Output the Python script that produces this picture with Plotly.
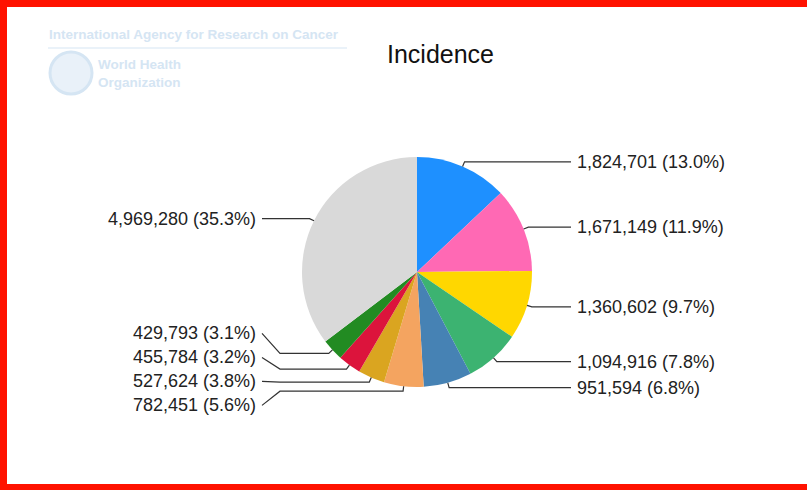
import math
import plotly.graph_objects as go

# ---- data ----
values = [1824701, 1671149, 1360602, 1094916, 951594, 782451, 527624, 455784, 429793, 4969280]
colors = ["#1E90FF", "#FF69B4", "#FFD700", "#3CB371", "#4682B4",
          "#F4A460", "#DAA520", "#DC143C", "#228B22", "#D9D9D9"]
title_text = "Incidence"

W, H = 807, 490
CX, CY, R = 417, 272, 115          # pie centre / radius in px
LABEL_GAP = 24
RIGHT_TEXT_X, RIGHT_LINE_END, RIGHT_KNEE = 575, 571, 555
LEFT_TEXT_X, LEFT_LINE_END, LEFT_KNEE = 258, 262, 280
LABEL_FONT = dict(family="Liberation Sans, Arial", size=18, color="#222222")


def px(x):
    return x / W


def py(y):
    return 1 - y / H


total = sum(values)
fig = go.Figure()
fig.add_trace(go.Pie(
    values=values,
    marker=dict(colors=colors, line=dict(width=0)),
    sort=False, direction="clockwise", rotation=0,
    textinfo="none", hoverinfo="value+percent", showlegend=False,
    domain=dict(x=[px(CX - R), px(CX + R)], y=[py(CY + R), py(CY - R)]),
))

# slice geometry
items = []
cum = 0
for v in values:
    mid = (cum + v / 2) / total * 2 * math.pi
    cum += v
    p = (CX + R * math.sin(mid), CY - R * math.cos(mid))
    q = (CX + (R + 5) * math.sin(mid), CY - (R + 5) * math.cos(mid))
    side = "right" if math.sin(mid) >= 0 else "left"
    items.append(dict(v=v, p=p, q=q, side=side, ly=q[1]))


def spread(group, bias=0.5):
    group.sort(key=lambda d: d["q"][1])
    for _ in range(300):
        moved = False
        for a, b in zip(group, group[1:]):
            d = b["ly"] - a["ly"]
            if d < LABEL_GAP - 0.01:
                s = LABEL_GAP - d
                a["ly"] -= s * (1 - bias)
                b["ly"] += s * bias
                moved = True
        if not moved:
            break


spread([i for i in items if i["side"] == "right"])
spread([i for i in items if i["side"] == "left"], bias=0.42)

shapes = []
annotations = []
for it in items:
    pct = it["v"] / total * 100
    txt = f"{it['v']:,} ({pct:.1f}%)"
    (x0, y0), (x1, y1) = it["p"], it["q"]
    ly = it["ly"]
    if it["side"] == "right":
        pts = [(x0, y0), (x1, y1), (RIGHT_KNEE, y1), (RIGHT_LINE_END, ly)]
        annotations.append(dict(x=px(RIGHT_TEXT_X), y=py(ly), xref="paper", yref="paper",
                                text=txt, showarrow=False, xanchor="left", yanchor="middle",
                                font=LABEL_FONT))
    else:
        pts = [(x0, y0), (x1, y1), (LEFT_KNEE, y1), (LEFT_LINE_END, ly)]
        annotations.append(dict(x=px(LEFT_TEXT_X), y=py(ly), xref="paper", yref="paper",
                                text=txt, showarrow=False, xanchor="right", yanchor="middle",
                                font=LABEL_FONT))
    path = "M " + " L ".join(f"{px(a):.5f},{py(b):.5f}" for a, b in pts)
    shapes.append(dict(type="path", path=path, xref="paper", yref="paper",
                       line=dict(color="#333333", width=1.2)))

# title
annotations.append(dict(x=px(440), y=py(54), xref="paper", yref="paper", text=title_text,
                        showarrow=False, xanchor="center", yanchor="middle",
                        font=dict(family="Liberation Sans, Arial", size=25, color="#111111")))

# faint IARC / WHO watermark
wm = "#d5e5f3"
annotations.append(dict(x=px(47), y=py(35), xref="paper", yref="paper",
                        text="<b>International Agency for Research on Cancer</b>", showarrow=False,
                        xanchor="left", yanchor="middle",
                        font=dict(family="Liberation Sans, Arial", size=13.5, color=wm)))
annotations.append(dict(x=px(96), y=py(73), xref="paper", yref="paper",
                        text="<b>World Health<br>Organization</b>", showarrow=False, align="left",
                        xanchor="left", yanchor="middle",
                        font=dict(family="Liberation Sans, Arial", size=13.5, color=wm)))
shapes.append(dict(type="line", xref="paper", yref="paper", x0=px(48), x1=px(347),
                   y0=py(48), y1=py(48), line=dict(color=wm, width=1)))
shapes.append(dict(type="circle", xref="paper", yref="paper", x0=px(50), x1=px(92),
                   y0=py(94), y1=py(52), line=dict(color=wm, width=3), fillcolor="#e9f1f9"))

# red frame
red = "#ff1200"
for x0, x1, y0, y1 in [(0, W, 0, 7), (0, 7, 0, H), (0, W, 484, H)]:
    shapes.append(dict(type="rect", xref="paper", yref="paper", x0=px(x0), x1=px(x1),
                       y0=py(y1), y1=py(y0), line=dict(width=0), fillcolor=red, layer="above"))

fig.update_layout(width=W, height=H, margin=dict(l=0, r=0, t=0, b=0),
                  paper_bgcolor="white", plot_bgcolor="white",
                  shapes=shapes, annotations=annotations)
fig.write_html("out.html", config={"displayModeBar": False},
               post_script="document.body.style.margin='0';document.body.style.overflow='hidden';")
